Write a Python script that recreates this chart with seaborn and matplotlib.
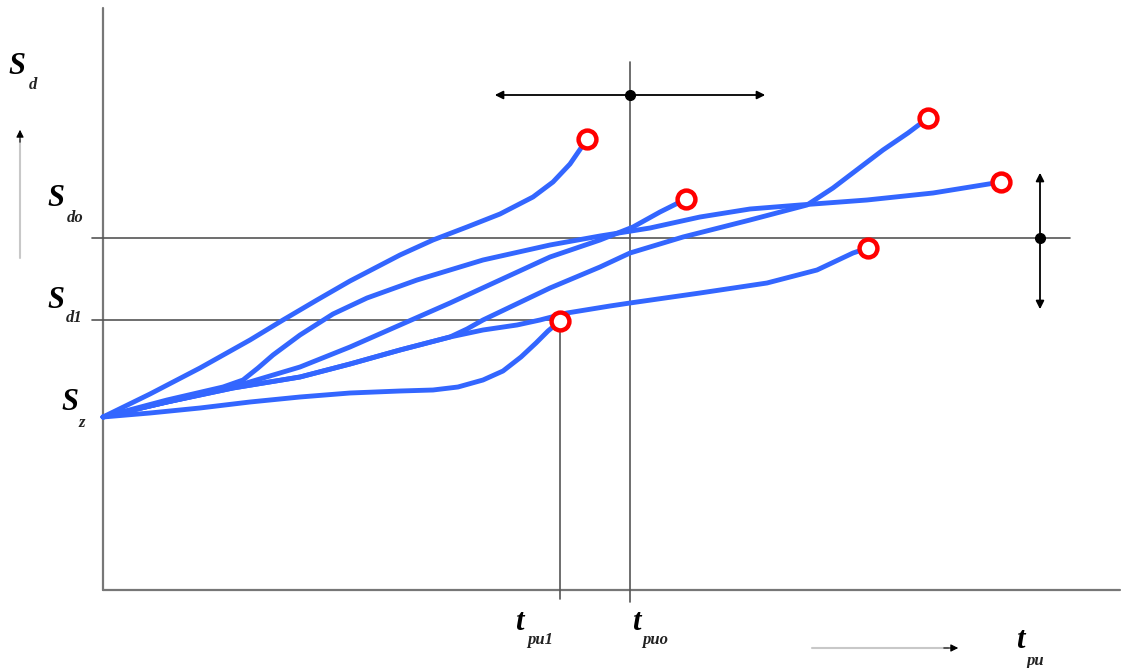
import matplotlib
matplotlib.use("Agg")
import matplotlib.pyplot as plt
import pandas as pd
import seaborn as sns

# curves (x = t_pu, y = S_d, arbitrary units, origin at axes corner)
CURVE_A_X = [0, 47, 97, 147, 180, 214, 247, 297, 330, 364, 397, 430, 450, 467, 478, 484]
CURVE_A_Y = [173, 196, 222, 250, 270, 290, 309, 335, 350, 363, 376, 393, 408, 426, 442, 451]
CURVE_B_X = [0, 64, 120, 140, 155, 170, 197, 230, 264, 314, 380, 447, 497, 547, 597, 647, 697, 764, 830, 898]
CURVE_B_Y = [173, 190, 203, 210, 222, 235, 255, 276, 292, 310, 330, 345, 354, 362, 373, 381, 385, 390, 397, 408]
CURVE_C_X = [0, 64, 130, 197, 247, 297, 347, 397, 447, 497, 530, 557, 583]
CURVE_C_Y = [173, 188, 203, 223, 243, 265, 287, 310, 333, 350, 363, 378, 391]
CURVE_D_X = [0, 64, 130, 197, 247, 297, 347, 364, 380, 447, 497, 527, 580, 647, 704, 730, 755, 780, 805, 825]
CURVE_D_Y = [173, 188, 202, 213, 226, 240, 253, 261, 270, 302, 323, 337, 353, 370, 385, 402, 421, 440, 457, 472]
CURVE_E_X = [0, 64, 130, 197, 247, 297, 347, 380, 414, 437, 464, 507, 527, 597, 664, 714, 750, 765]
CURVE_E_Y = [173, 188, 202, 213, 226, 240, 253, 260, 265, 270, 277, 284, 287, 297, 307, 320, 337, 342]
CURVE_F_X = [0, 47, 97, 147, 197, 247, 297, 330, 355, 380, 400, 418, 433, 445, 457]
CURVE_F_Y = [173, 177, 182, 188, 193, 197, 199, 200, 203, 210, 219, 233, 247, 259, 269]

# reference levels
S_DO = 352
S_D1 = 270
T_PU1 = 457
T_PUO = 527
X_MAX = 1017
Y_MAX = 582

BLUE = "#3366ff"
GREY = "#555555"

curves = {
    "A": (CURVE_A_X, CURVE_A_Y),
    "B": (CURVE_B_X, CURVE_B_Y),
    "C": (CURVE_C_X, CURVE_C_Y),
    "D": (CURVE_D_X, CURVE_D_Y),
    "E": (CURVE_E_X, CURVE_E_Y),
    "F": (CURVE_F_X, CURVE_F_Y),
}
df = pd.concat(
    [pd.DataFrame({"curve": k, "x": xs, "y": ys}) for k, (xs, ys) in curves.items()],
    ignore_index=True,
)
ends = df.groupby("curve").tail(1)

sns.set_style("white")
fig = plt.figure(figsize=(11.21, 6.68), dpi=100)
ax = fig.add_axes([0, 0, 1, 1])

# axes of the diagram
ax.plot([0, 0], [0, Y_MAX], color="#777777", lw=1.6, zorder=1)
ax.plot([0, X_MAX], [0, 0], color="#777777", lw=1.6, zorder=1)

# reference lines
ax.plot([-11, 967], [S_DO, S_DO], color=GREY, lw=1.2, zorder=1)
ax.plot([-11, T_PU1], [S_D1, S_D1], color=GREY, lw=1.2, zorder=1)
ax.plot([T_PU1, T_PU1], [-9, S_D1], color=GREY, lw=1.2, zorder=1)
ax.plot([T_PUO, T_PUO], [-12, 528], color=GREY, lw=1.2, zorder=1)

# curves
sns.lineplot(data=df, x="x", y="y", units="curve", estimator=None, sort=False,
             color=BLUE, lw=3.5, ax=ax, legend=False, zorder=3,
             solid_joinstyle="round", solid_capstyle="round")
sns.scatterplot(data=ends, x="x", y="y", ax=ax, s=165, facecolor="white",
                edgecolor="#ff0000", linewidth=3.2, zorder=4, legend=False)
ax.set_xlim(-103, 1018)
ax.set_ylim(-78, 590)
ax.axis("off")

# double arrows with dots
arrow = dict(arrowstyle="<|-|>", color="black", lw=1.3, mutation_scale=12)
ax.annotate("", xy=(389, 495), xytext=(665, 495), arrowprops=arrow)
ax.plot([T_PUO], [495], "o", color="black", ms=7)
ax.annotate("", xy=(937, 278), xytext=(937, 420), arrowprops=arrow)
ax.plot([937], [S_DO], "o", color="black", ms=7)

# direction arrows: grey shaft, black head
ax.plot([-83, -83], [332, 450], color="#c8c8c8", lw=1.5)
ax.annotate("", xy=(-83, 463), xytext=(-83, 445),
            arrowprops=dict(arrowstyle="-|>", color="black", lw=0.8, mutation_scale=11))
ax.plot([709, 845], [-58, -58], color="#c8c8c8", lw=1.5)
ax.annotate("", xy=(858, -58), xytext=(838, -58),
            arrowprops=dict(arrowstyle="-|>", color="black", lw=0.8, mutation_scale=11))

# labels
big = dict(fontfamily="Liberation Serif", fontweight="bold", fontstyle="italic",
           fontsize=22, ha="center", va="center", color="black")
small = dict(fontfamily="Liberation Serif", fontweight="bold", fontstyle="italic",
             fontsize=12, ha="center", va="center", color="#222222")
ax.text(-86, 524, "S", **big)
ax.text(-70, 505, "d", **small)
ax.text(-47, 391, "S", **big)
ax.text(-28, 372, "do", **small)
ax.text(-47, 290, "S", **big)
ax.text(-29, 272, "d1", **small)
ax.text(-33, 187, "S", **big)
ax.text(-21, 167, "z", **small)
ax.text(416, -32, "t", **big)
ax.text(437, -50, "pu1", **small)
ax.text(533, -32, "t", **big)
ax.text(552, -50, "puo", **small)
ax.text(917, -50, "t", **big)
ax.text(932, -71, "pu", **small)

fig.savefig("out.png", dpi=100)
